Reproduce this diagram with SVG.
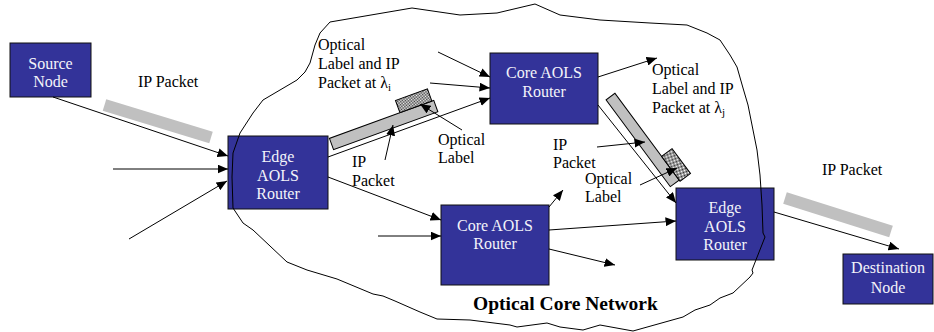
<svg xmlns="http://www.w3.org/2000/svg" width="934" height="332" viewBox="0 0 934 332">
<style>
.box{fill:#333399;stroke:#111;stroke-width:1}
.bt{fill:#f4f4fa;text-anchor:middle}
.t{fill:#000}
.c{stroke:#000;stroke-width:1;fill:none;marker-end:url(#ah)}
.barO{fill:#c0c0c0;stroke:#000;stroke-width:1}
.hatch{fill:url(#dots);stroke:#000;stroke-width:1}
</style>
<defs>
<marker id="ah" markerUnits="userSpaceOnUse" markerWidth="11" markerHeight="9" refX="10.5" refY="4.5" orient="auto">
<path d="M0,0 L10.5,4.5 L0,9 z" fill="#000"/>
</marker>
<pattern id="dots" patternUnits="userSpaceOnUse" width="2" height="2">
<rect width="2" height="2" fill="#ffffff"/>
<rect width="1" height="1" fill="#333"/>
<rect x="1" y="1" width="1" height="1" fill="#333"/>
</pattern>
</defs>

<g id="packets">
<line x1="104.5" y1="105" x2="211" y2="137.5" stroke="#c0c0c0" stroke-width="12"/>
<line x1="785" y1="198" x2="891" y2="231.5" stroke="#c0c0c0" stroke-width="12"/>
<g transform="translate(331.5,144) rotate(-20)">
<rect class="barO" x="0" y="-6" width="111" height="12"/>
<rect class="hatch" x="75" y="-19" width="34" height="13"/>
</g>
<g transform="translate(610.5,96.5) rotate(53.5)">
<rect class="barO" x="0" y="-5.5" width="108" height="11"/>
<rect class="hatch" x="78.5" y="-18.5" width="31" height="13"/>
</g>
</g>

<g id="source"><rect class="box" x="10" y="43" width="81" height="54"/>
<text class="bt" font-family="Liberation Serif" font-size="16" x="50.5" y="69">Source</text><text class="bt" font-family="Liberation Serif" font-size="16" x="50.5" y="87">Node</text></g>
<g id="edge-left"><rect class="box" x="228" y="136" width="100" height="73"/>
<text class="bt" font-family="Liberation Serif" font-size="16" x="278" y="162">Edge</text><text class="bt" font-family="Liberation Serif" font-size="16" x="278" y="181">AOLS</text><text class="bt" font-family="Liberation Serif" font-size="16" x="278" y="199">Router</text></g>
<g id="core-top"><rect class="box" x="490" y="53" width="108" height="71"/>
<text class="bt" font-family="Liberation Serif" font-size="16" x="544" y="78">Core AOLS</text><text class="bt" font-family="Liberation Serif" font-size="16" x="544" y="97">Router</text></g>
<g id="core-bottom"><rect class="box" x="441" y="205" width="108" height="80"/>
<text class="bt" font-family="Liberation Serif" font-size="16" x="495" y="231">Core AOLS</text><text class="bt" font-family="Liberation Serif" font-size="16" x="495" y="249">Router</text></g>
<g id="edge-right"><rect class="box" x="676" y="188" width="98" height="72"/>
<text class="bt" font-family="Liberation Serif" font-size="16" x="725" y="213">Edge</text><text class="bt" font-family="Liberation Serif" font-size="16" x="725" y="232">AOLS</text><text class="bt" font-family="Liberation Serif" font-size="16" x="725" y="250">Router</text></g>
<g id="destination"><rect class="box" x="843" y="254" width="90" height="50"/>
<text class="bt" font-family="Liberation Serif" font-size="16" x="888" y="273">Destination</text><text class="bt" font-family="Liberation Serif" font-size="16" x="888" y="293">Node</text></g>

<g id="cloud">
<path d="M330,22 L412,8 L460,15 L497,13 L535,4 L560,15 L600,20 L650,23 L687,25 L707,33 L720,40 L730,55 L737,67 L743,88 L748,105 L752,125 L757,150 L760,175 L762,205 L763,233 L765,237 L752,270 L753,273 L750,277 L733,293 L720,298 L710,305 L695,310 L683,317 L633,331 L600,325 L583,330 L560,327 L547,323 L517,327 L510,325 L470,320 L437,319 L420,312 L395,301 L383,296 L373,294 L337,279 L307,270 L287,262 L270,246 L253,230 L243,223 L233,208 L232,177 L233,153 L240,133 L253,113 L263,100 L280,90 L297,80 L305,72 L310,63 L315,45 L320,33 Z" fill="none" stroke="#000" stroke-width="1"/>
</g>

<g id="connectors">
<line class="c" x1="53" y1="97" x2="228" y2="156"/>
<line class="c" x1="113" y1="169" x2="228" y2="169" stroke="#555"/>
<line class="c" x1="129" y1="239" x2="227" y2="181"/>
<line class="c" x1="438" y1="52" x2="490" y2="77"/>
<line class="c" x1="430" y1="83" x2="490" y2="88"/>
<line class="c" x1="328" y1="157" x2="490" y2="98"/>
<line class="c" x1="385" y1="160" x2="393" y2="125"/>
<line class="c" x1="462" y1="130" x2="420" y2="104"/>
<line class="c" x1="598" y1="77" x2="657" y2="58"/>
<line class="c" x1="598" y1="105" x2="676" y2="203"/>
<line class="c" x1="597" y1="147" x2="645" y2="142"/>
<line class="c" x1="640" y1="185" x2="677" y2="168"/>
<line class="c" x1="328" y1="177" x2="441" y2="220"/>
<line class="c" x1="378" y1="236" x2="441" y2="236" stroke="#555"/>
<line class="c" x1="549" y1="207" x2="563" y2="190"/>
<line class="c" x1="549" y1="230" x2="676" y2="221"/>
<line class="c" x1="549" y1="249" x2="615" y2="265"/>
<line class="c" x1="774" y1="212" x2="899" y2="249"/>
</g>

<g id="labels">
<text class="t" font-family="Liberation Serif" font-size="16" x="138" y="87">IP Packet</text>
<text class="t" font-family="Liberation Serif" font-size="16" x="318" y="50">Optical</text>
<text class="t" font-family="Liberation Serif" font-size="16" x="318" y="69">Label and IP</text>
<text class="t" font-family="Liberation Serif" font-size="16" x="318" y="88">Packet at λ<tspan font-size="11" dy="3">i</tspan></text>
<text class="t" font-family="Liberation Serif" font-size="16" x="352" y="167">IP</text>
<text class="t" font-family="Liberation Serif" font-size="16" x="352" y="186">Packet</text>
<text class="t" font-family="Liberation Serif" font-size="16" x="438" y="145">Optical</text>
<text class="t" font-family="Liberation Serif" font-size="16" x="438" y="163">Label</text>
<text class="t" font-family="Liberation Serif" font-size="16" x="652" y="75">Optical</text>
<text class="t" font-family="Liberation Serif" font-size="16" x="652" y="94">Label and IP</text>
<text class="t" font-family="Liberation Serif" font-size="16" x="652" y="113">Packet at λ<tspan font-size="11" dy="3">j</tspan></text>
<text class="t" font-family="Liberation Serif" font-size="16" x="553" y="150">IP</text>
<text class="t" font-family="Liberation Serif" font-size="16" x="553" y="168">Packet</text>
<text class="t" font-family="Liberation Serif" font-size="16" x="585" y="184">Optical</text>
<text class="t" font-family="Liberation Serif" font-size="16" x="585" y="202">Label</text>
<text class="t" font-family="Liberation Serif" font-size="16" x="822" y="175">IP Packet</text>
<text class="t" font-family="Liberation Serif" x="473" y="310" font-weight="bold" font-size="19.5">Optical Core Network</text>
</g>
</svg>
